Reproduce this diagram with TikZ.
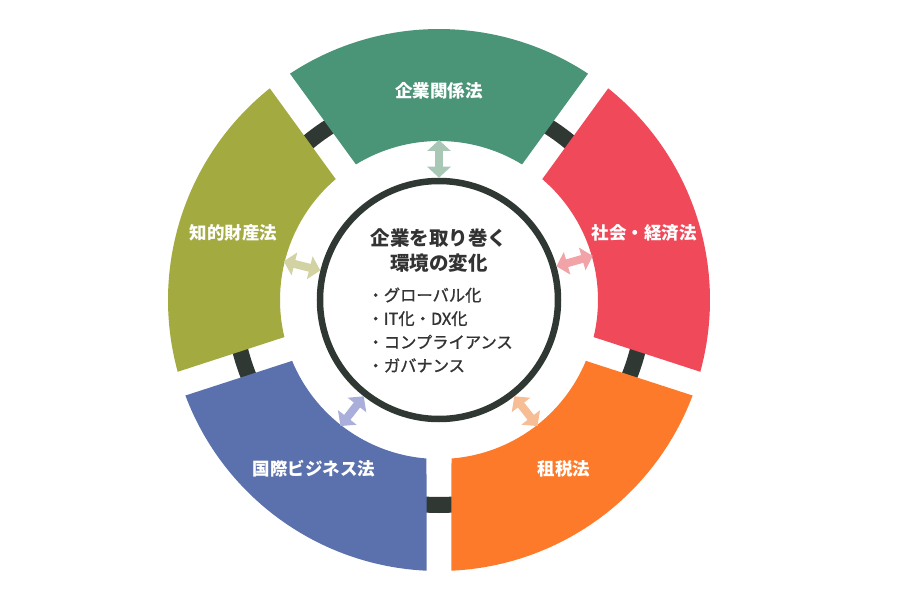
\documentclass[tikz,border=0pt]{standalone}
\usepackage{fontspec}
\setmainfont{Noto Sans CJK JP}
\newfontfamily\itemfont[FakeBold=1.2]{Noto Sans CJK JP}
\usetikzlibrary{arrows.meta}
\definecolor{ink}{HTML}{2F3832}
\definecolor{textc}{HTML}{333333}
\definecolor{segtop}{HTML}{4A9478}
\definecolor{segright}{HTML}{F0495A}
\definecolor{segbr}{HTML}{FD7A2A}
\definecolor{segbl}{HTML}{5A71AD}
\definecolor{segleft}{HTML}{A3AA40}
\definecolor{linktop}{HTML}{A9C7B5}
\definecolor{linkright}{HTML}{F2A3A7}
\definecolor{linkbr}{HTML}{F7BE96}
\definecolor{linkbl}{HTML}{A9AFDA}
\definecolor{linkleft}{HTML}{D2D2A2}
\newcommand{\TitleF}{\fontsize{19.5}{25}\selectfont\bfseries}
\newcommand{\LabelF}{\fontsize{17.5}{21}\selectfont\bfseries}
\newcommand{\ItemF}{\itemfont\fontsize{16.3}{23.5}\selectfont}
\newcommand{\RingSeg}[3]{%
  \fill[#1] ({#2+2.64}:271pt) arc[start angle={#2+2.64}, end angle={#3-2.64}, radius=271pt]
    -- ({#3-4.51}:159pt) arc[start angle={#3-4.51}, end angle={#2+4.51}, radius=159pt] -- cycle;}

\begin{document}
\begin{tikzpicture}[x=1pt, y=1pt,
  core/.style={circle, draw=ink, line width=6.5pt, fill=white, minimum size=238pt, inner sep=0pt},
  seglabel/.style={text=white, font=\LabelF},
  link/.style={line width=8pt, {Triangle[width=23pt,length=11pt]}-{Triangle[width=23pt,length=11pt]}}]
  \useasboundingbox (-439,-300) rectangle (461,300);
  \draw[ink, line width=16pt] (0,0) circle[radius=205pt];
  \RingSeg{segtop}{54}{126}
  \RingSeg{segright}{-18}{54}
  \RingSeg{segbr}{-90}{-18}
  \RingSeg{segbl}{198}{270}
  \RingSeg{segleft}{126}{198}

  \node[core] (core) at (0,0) {};
  \node[font=\TitleF, text=textc, align=center] (title) at (0,49.5) {企業を取り巻く\\環境の変化};
  \node[font=\ItemF, text=textc, align=left, anchor=west] (items) at (-75,-30)
    {・グローバル化\\・IT化・DX化\\・コンプライアンス\\・ガバナンス};

  \node[seglabel] (corp) at (90:209) {企業関係法};
  \node[seglabel] (socio) at (18:216) {社会・経済法};
  \node[seglabel] (tax) at (306.5:210) {租税法};
  \node[seglabel] (intl) at (233.5:210) {国際ビジネス法};
  \node[seglabel] (ip) at (162:216) {知的財産法};

  \coordinate (corp-in) at (90:160);
  \coordinate (socio-in) at (16:160);
  \coordinate (tax-in) at (308:160);
  \coordinate (intl-in) at (232:160);
  \coordinate (ip-in) at (166:160);
  \draw[link, linktop] (core.90) -- (corp-in);
  \draw[link, linkright] (core.16) -- (socio-in);
  \draw[link, linkbr] (core.308) -- (tax-in);
  \draw[link, linkbl] (core.232) -- (intl-in);
  \draw[link, linkleft] (core.166) -- (ip-in);
\end{tikzpicture}
\end{document}
